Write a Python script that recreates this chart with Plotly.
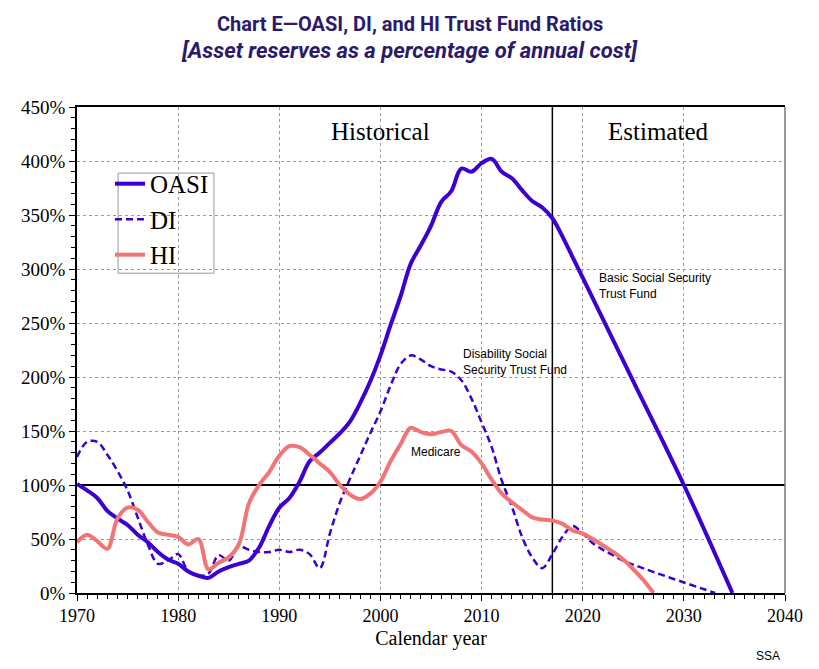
import plotly.graph_objects as go

# Trust fund ratios (percent of annual cost)
oasi_years = [1970, 1971, 1972, 1973, 1974, 1975, 1976, 1977, 1978, 1979,
              1980, 1981, 1982, 1983, 1984, 1985, 1986, 1987, 1988, 1989,
              1990, 1991, 1992, 1993, 1994, 1995, 1996, 1997, 1998, 1999,
              2000, 2001, 2002, 2003, 2004, 2005, 2006, 2007, 2008, 2009,
              2010, 2011, 2012, 2013, 2014, 2015, 2016, 2017, 2018, 2019,
              2020, 2025, 2030, 2034.8]
oasi = [101, 95, 88, 76, 69, 63, 54, 47, 38, 31,
        27, 20, 16, 14, 20, 24, 27, 30, 42, 62,
        79, 88, 103, 122, 130, 139, 148, 159, 176, 196,
        220, 248, 275, 305, 322, 340, 362, 372, 393, 390,
        398, 402, 390, 384, 373, 363, 357, 347, 330, 311,
        292, 196, 100, 0]

di_years = [1970, 1971, 1972, 1973, 1974, 1975, 1976, 1977, 1978, 1979,
            1980, 1981, 1982, 1983, 1984, 1985, 1986, 1987, 1988, 1989,
            1990, 1991, 1992, 1993, 1994, 1995, 1996, 1997, 1998, 1999,
            2000, 2001, 2002, 2003, 2004, 2005, 2006, 2007, 2008, 2009,
            2010, 2011, 2012, 2013, 2014, 2015, 2016, 2017, 2018, 2019,
            2020, 2021, 2022, 2023, 2024, 2033.1]
di = [126, 140, 140, 128, 113, 95, 70, 45, 27, 30,
      36, 20, 16, 18, 35, 30, 43, 40, 38, 38,
      40, 38, 40, 36, 23, 55, 84, 106, 127, 148,
      168, 192, 212, 220, 216, 210, 207, 205, 197, 180,
      158, 135, 104, 80, 52, 33, 23, 36, 52, 62,
      55, 46, 40, 35, 30, 0]

hi_years = [1970, 1971, 1972, 1973, 1974, 1975, 1976, 1977, 1978, 1979,
            1980, 1981, 1982, 1983, 1984, 1985, 1986, 1987, 1988, 1989,
            1990, 1991, 1992, 1993, 1994, 1995, 1996, 1997, 1998, 1999,
            2000, 2001, 2002, 2003, 2004, 2005, 2006, 2007, 2008, 2009,
            2010, 2011, 2012, 2013, 2014, 2015, 2016, 2017, 2018, 2019,
            2020, 2021, 2022, 2023, 2024, 2025, 2026, 2027]
hi = [47, 54, 48, 41, 69, 79, 77, 66, 56, 54,
      52, 45, 50, 22, 28, 33, 45, 83, 100, 112,
      127, 136, 135, 128, 120, 112, 100, 91, 87, 92,
      103, 122, 138, 153, 149, 147, 149, 150, 137, 131,
      120, 105, 92, 84, 77, 70, 68, 67, 64, 58,
      55, 50, 44, 38, 31, 22, 12, 0]

BLUE = "#3a00d4"
RED = "#f27474"
NAVY = "#2b1a6b"
SERIF = "Liberation Serif, Times New Roman, serif"
SANS = "Liberation Sans, Arial, sans-serif"

fig = go.Figure()
fig.add_trace(go.Scatter(x=oasi_years, y=oasi, name="OASI", mode="lines",
                         line=dict(color=BLUE, width=4, shape="spline")))
fig.add_trace(go.Scatter(x=di_years, y=di, name="DI", mode="lines",
                         line=dict(color=BLUE, width=2.5, dash="7px,4px", shape="spline")))
fig.add_trace(go.Scatter(x=hi_years, y=hi, name="HI", mode="lines",
                         line=dict(color=RED, width=4, shape="spline")))

# reference lines
fig.add_shape(type="line", x0=1970, x1=2040, y0=100, y1=100,
              line=dict(color="black", width=2), layer="between")
fig.add_shape(type="line", x0=2017, x1=2017, y0=0, y1=450,
              line=dict(color="black", width=1.5), layer="between")
# grey right border
fig.add_shape(type="line", xref="paper", yref="paper", x0=1, x1=1, y0=0, y1=1,
              line=dict(color="#777777", width=1.5))
# legend frame
fig.add_shape(type="rect", xref="paper", yref="paper",
              x0=0.058, x1=0.1935, y0=0.658, y1=0.864,
              line=dict(color="#999999", width=1), fillcolor="white", layer="between")

# titles
fig.add_annotation(text="<b>Chart E\u2014OASI, DI, and HI Trust Fund Ratios</b>",
                   xref="paper", yref="paper", x=0.470, y=1.171, yanchor="middle",
                   showarrow=False,
                   font=dict(family="Roboto, sans-serif", size=20, color=NAVY))
fig.add_annotation(text="<b><i>[Asset reserves as a percentage of annual cost]</i></b>",
                   xref="paper", yref="paper", x=0.470, y=1.117, yanchor="middle",
                   showarrow=False,
                   font=dict(family="Roboto, sans-serif", size=22, color=NAVY))

# in-plot labels
fig.add_annotation(text="Historical", x=2000, y=427, showarrow=False,
                   font=dict(family=SERIF, size=25, color="black"))
fig.add_annotation(text="Estimated", x=2027.4, y=427, showarrow=False,
                   font=dict(family=SERIF, size=25, color="black"))
fig.add_annotation(text="Basic Social Security<br>Trust Fund", x=2021.4, y=284,
                   xanchor="left", align="left", showarrow=False,
                   font=dict(family=SANS, size=12, color="black"))
fig.add_annotation(text="Disability Social<br>Security Trust Fund", x=2008.0, y=214,
                   xanchor="left", align="left", showarrow=False,
                   font=dict(family=SANS, size=12, color="black"))
fig.add_annotation(text="Medicare", x=2002.8, y=131, xanchor="left", showarrow=False,
                   font=dict(family=SANS, size=12, color="black"))
fig.add_annotation(text="SSA", xref="paper", yref="paper", x=0.996, y=-0.13,
                   xanchor="right", yanchor="middle", showarrow=False,
                   font=dict(family=SANS, size=12, color="black"))

fig.update_xaxes(range=[1970, 2040], dtick=10, tick0=1970,
                 showline=True, linecolor="black", linewidth=1.5, mirror=True,
                 ticks="outside", ticklen=6, tickcolor="black",
                 showgrid=True, gridcolor="#9a9a9a", griddash="dot", gridwidth=1,
                 zeroline=False, automargin=False,
                 minor=dict(dtick=1, ticks="outside", ticklen=4, tickcolor="black", showgrid=False),
                 tickfont=dict(family=SERIF, size=18, color="black"),
                 title=dict(text="Calendar year", standoff=6,
                            font=dict(family=SERIF, size=20, color="black")))
fig.update_yaxes(range=[0, 450], dtick=50, ticksuffix="%",
                 showline=True, linecolor="black", linewidth=1.5, mirror=False,
                 ticks="outside", ticklen=6, tickcolor="black",
                 showgrid=True, gridcolor="#9a9a9a", griddash="dot", gridwidth=1,
                 zeroline=False, automargin=False,
                 minor=dict(dtick=10, ticks="outside", ticklen=4, tickcolor="black", showgrid=False),
                 tickfont=dict(family=SERIF, size=19, color="black"))

# page body has an 8px margin, so the figure is sized to fit the window
fig.update_layout(
    width=811, height=661,
    margin=dict(l=69, r=34, t=99, b=76),
    plot_bgcolor="white", paper_bgcolor="white",
    legend=dict(x=0.0466, y=0.889, xanchor="left", yanchor="top",
                bgcolor="rgba(0,0,0,0)", borderwidth=0,
                font=dict(family=SERIF, size=25, color="black"),
                tracegroupgap=0, itemwidth=30),
)

fig.write_html("out.html")
